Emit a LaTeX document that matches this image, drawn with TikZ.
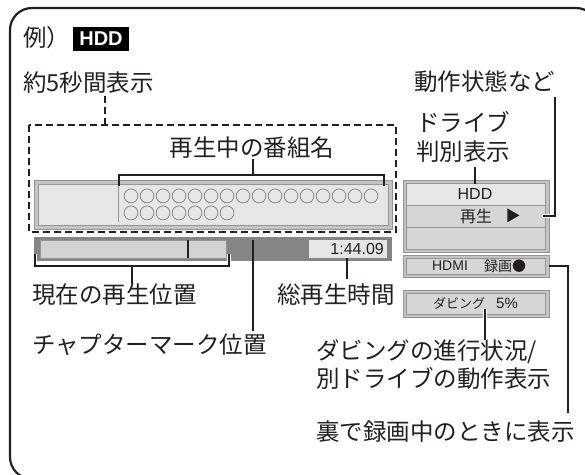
\documentclass[tikz,border=0pt]{standalone}
\usepackage{fontspec}
\newfontfamily\jp{Noto Sans CJK JP}
\newfontfamily\lat{Liberation Sans}
\definecolor{ink}{HTML}{231F20}
\definecolor{dark}{HTML}{858585}
\definecolor{band}{HTML}{C4C4C4}
\definecolor{edge}{HTML}{959595}
\definecolor{inner}{HTML}{E6E6E6}
\definecolor{bar}{HTML}{D2D2D2}
\definecolor{rowg}{HTML}{D6D6D6}
\definecolor{circ}{HTML}{555555}
\tikzset{
  lbl/.style={font=\jp\fontsize{23.5}{26}\selectfont, inner sep=0pt, anchor=west, text=ink},
  small/.style={font=\jp\fontsize{14}{16}\selectfont, inner sep=0pt, text=ink},
  sans/.style={font=\lat\fontsize{15}{17}\selectfont, inner sep=0pt, text=ink},
  conn/.style={line width=2pt, draw=ink},
  halo/.style={preaction={draw=white, line width=3.4pt}},
  outerbox/.style={fill=band, draw=edge, line width=0.9pt},
  innerbox/.style={draw=edge, line width=0.8pt},
  dashbox/.style={draw=ink, line width=2.8pt, dash pattern=on 7pt off 4pt}
}
\begin{document}
\begin{tikzpicture}[x=1pt,y=-1pt]
\useasboundingbox (0,0) rectangle (585,474);
\clip (0,0) rectangle (585,474);
% outer frame
\draw[line width=2.2pt, draw=ink, rounded corners=22pt] (10,8) rectangle (598,479);

% heading
\node[lbl] (rei) at (23,38) {例）};
\node[fill=black, text=white, font=\lat\bfseries\fontsize{20}{20}\selectfont,
      inner sep=0pt, minimum width=56pt, minimum height=24pt] (badge) at (101,39) {HDD};

% 約5秒間表示 + dashed region
\node[lbl] (five) at (23,83) {約5秒間表示};
\coordinate (fiveA) at (105,96);
\coordinate (fiveB) at (105,125);
\draw[dashbox] (fiveA) -- (fiveB);
\draw[dashbox] (29,125) rectangle (396,232);

% program name
\node[lbl, anchor=center] (title) at (252,148) {再生中の番組名};
\draw[outerbox] (34,180) rectangle (392,229);
\draw[innerbox, fill=inner] (38,184) rectangle (388,225);
\draw[draw=edge, line width=1pt] (118,186) -- (118,222);
\node[font=\jp\fontsize{16}{18}\selectfont, anchor=west, inner sep=0pt, text=circ] (row1) at (123,196) {○○○○○○○○○○○○○○○○};
\node[font=\jp\fontsize{16}{18}\selectfont, anchor=west, inner sep=0pt, text=circ] (row2) at (123,213) {○○○○○○○};
\coordinate (brL) at (119,186);
\coordinate (brR) at (384,186);
\coordinate (brS) at (253,175);
\draw[conn] (brL) -- (brL |- brS) -- (brR |- brS) -- (brR);
\draw[conn] (brS) -- (brS |- title.south);

% progress bar
\draw[fill=dark, draw=none] (34,237) rectangle (392,261);
\draw[fill=bar, draw=edge, line width=0.8pt] (40,240) rectangle (226,258);
\draw[line width=2pt, draw=ink] (188,240) -- (188,258);
\node[fill=inner, draw=none, minimum width=78pt, minimum height=18pt, inner sep=0pt] (timebox) at (348,249) {};
\node[sans, font=\lat\fontsize{16}{18}\selectfont, anchor=east] (time) at (384,249) {1:44.09};

% current position bracket
\coordinate (cpL) at (35,254);
\coordinate (cpR) at (229,254);
\coordinate (cpS) at (132,266);
\node[lbl] (cur) at (32,295) {現在の再生位置};
\draw[conn, halo] (cpL) -- (cpL |- cpS) -- (cpR |- cpS) -- (cpR);
\draw[conn] (cpS) -- (cpS |- cur.north);

% chapter mark
\node[lbl] (chap) at (32,345) {チャプターマーク位置};
\coordinate (chA) at (253,240);
\coordinate (chB) at (253,331);
\draw[conn] (chA) -- (chB);

% total time
\node[lbl] (total) at (277,295) {総再生時間};
\draw[conn] (timebox.south -| 347,0) -- (347,279);

% right column labels
\node[lbl] (state) at (414,82) {動作状態など};
\node[lbl] (drv1) at (416,122) {ドライブ};
\node[lbl] (drv2) at (416,152) {判別表示};

% drive box
\draw[outerbox] (403,180) rectangle (549,252);
\draw[innerbox, fill=inner] (406,183) rectangle (545,205);
\draw[innerbox, fill=rowg] (406,205) rectangle (545,227);
\draw[innerbox, fill=rowg] (406,227) rectangle (545,249);
\node[sans, font=\lat\fontsize{16}{18}\selectfont] (hdd) at (475,194) {HDD};
\node[small, font=\jp\fontsize{16}{18}\selectfont] (play) at (476,216) {再生};
\node[small, font=\jp\fontsize{15}{17}\selectfont] (tri) at (513,216) {▶};
\draw[conn] (475,167) -- (475,184);
\coordinate (stA) at (555,97);
\coordinate (stB) at (543,216);
\draw[conn, halo] (stA) |- (stB);

% HDMI box
\draw[outerbox] (403,255) rectangle (549,277);
\draw[innerbox, fill=rowg] (406,258) rectangle (545,274);
\node[sans, font=\lat\fontsize{14}{16}\selectfont] (hdmi) at (450,266) {HDMI};
\node[small, anchor=west] (rec) at (484,266) {録画●};
\node[lbl] (ura) at (316,432) {裏で録画中のときに表示};
\coordinate (hmA) at (549,266);
\coordinate (hmB) at (568,413);
\draw[conn] (hmA) -| (hmB);

% dubbing box
\draw[outerbox] (403,290) rectangle (549,317);
\draw[innerbox, fill=rowg] (406,293) rectangle (545,314);
\node[small, font=\jp\fontsize{13}{15}\selectfont, anchor=west] (dub) at (433,303) {ダビング};
\node[sans, anchor=west] (pct) at (496,303) {5\%};
\node[lbl] (dub1) at (316,352) {ダビングの進行状況/};
\node[lbl] (dub2) at (316,378) {別ドライブの動作表示};
\coordinate (dbA) at (485,309);
\draw[conn, halo] (dbA) -- (dbA |- dub1.north);
\end{tikzpicture}
\end{document}
